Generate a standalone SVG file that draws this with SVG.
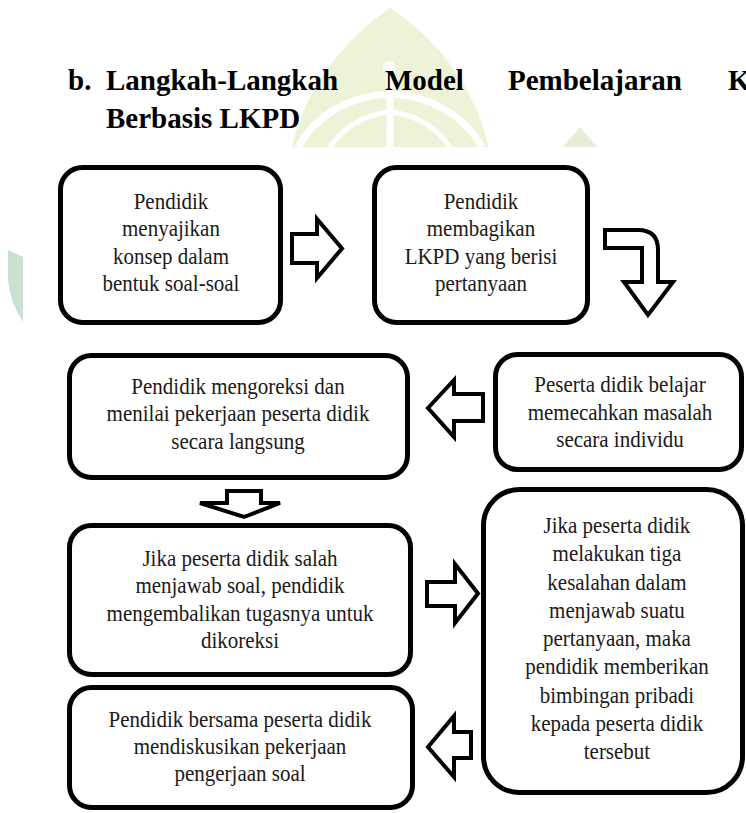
<svg xmlns="http://www.w3.org/2000/svg" width="746" height="813" viewBox="0 0 746 813">
<style>
.box{fill:#fff;stroke:#000;stroke-width:5}
.arr{fill:#fff;stroke:#000;stroke-width:4;stroke-linejoin:miter}
.t{font-family:"Liberation Serif","Times New Roman",serif;font-size:24px;fill:#1a1a1a;text-anchor:middle}
.h{font-family:"Liberation Serif","Times New Roman",serif;font-size:29px;font-weight:bold;fill:#000}
</style>
<rect width="746" height="813" fill="#fff"/>
<g id="watermark">
<path d="M390,8 C350,35 305,85 292,147 L488,147 C476,85 432,35 390,8 Z" fill="#eef3d8"/>
<path d="M298,147 Q325,100 386,94" fill="none" stroke="#fff" stroke-width="7"/>
<path d="M482,147 Q455,100 394,94" fill="none" stroke="#fff" stroke-width="7"/>
<path d="M330,147 Q350,118 387,112" fill="none" stroke="#fff" stroke-width="5"/>
<path d="M450,147 Q430,118 393,112" fill="none" stroke="#fff" stroke-width="5"/>
<line x1="390" y1="68" x2="390" y2="147" stroke="#fff" stroke-width="7"/>
<circle cx="389" cy="67" r="6" fill="#fff"/>
<path d="M580,127 L563,147 L597,147 Z" fill="#e6efd6"/>
<path d="M8,250 L23,257 L23,322 Q10,302 8,280 Z" fill="#c9e1d2"/>
</g>
<g id="title">
<text class="h" x="68" y="90">b.</text>
<text class="h" x="106" y="90">Langkah-Langkah</text>
<text class="h" x="385" y="90">Model</text>
<text class="h" x="508" y="90">Pembelajaran</text>
<text class="h" x="728" y="90">K</text>
<text class="h" x="106" y="128">Berbasis LKPD</text>
</g>
<g id="node1">
<rect class="box" x="60.5" y="167.5" width="220" height="155" rx="22"/>
<g transform="scale(0.875,1)">
<text class="t" x="195.4" y="209">Pendidik</text>
<text class="t" x="195.4" y="236.5">menyajikan</text>
<text class="t" x="195.4" y="264">konsep dalam</text>
<text class="t" x="195.4" y="291.5">bentuk soal-soal</text>
</g>
</g>
<g id="node2">
<rect class="box" x="374.5" y="167.5" width="213" height="155" rx="22"/>
<g transform="scale(0.875,1)">
<text class="t" x="549.7" y="209">Pendidik</text>
<text class="t" x="549.7" y="236.5">membagikan</text>
<text class="t" x="549.7" y="264">LKPD yang berisi</text>
<text class="t" x="549.7" y="291.5">pertanyaan</text>
</g>
</g>
<g id="node3">
<rect class="box" x="495.5" y="354.5" width="246" height="115" rx="22"/>
<g transform="scale(0.875,1)">
<text class="t" x="708.6" y="392">Peserta didik belajar</text>
<text class="t" x="708.6" y="420">memecahkan masalah</text>
<text class="t" x="708.6" y="447">secara individu</text>
</g>
</g>
<g id="node4">
<rect class="box" x="69.5" y="355.5" width="338" height="122" rx="22"/>
<g transform="scale(0.875,1)">
<text class="t" x="272" y="394">Pendidik mengoreksi dan</text>
<text class="t" x="272" y="421.5">menilai pekerjaan peserta didik</text>
<text class="t" x="272" y="449">secara langsung</text>
</g>
</g>
<g id="node5">
<rect class="box" x="69.5" y="525.5" width="341" height="149" rx="22"/>
<g transform="scale(0.875,1)">
<text class="t" x="274.3" y="566">Jika peserta didik salah</text>
<text class="t" x="274.3" y="593.5">menjawab soal, pendidik</text>
<text class="t" x="274.3" y="621">mengembalikan tugasnya untuk</text>
<text class="t" x="274.3" y="648.5">dikoreksi</text>
</g>
</g>
<g id="node6">
<rect class="box" x="483.5" y="489.5" width="259" height="303" rx="36"/>
<g transform="scale(0.875,1)">
<text class="t" x="705.1" y="533">Jika peserta didik</text>
<text class="t" x="705.1" y="561">melakukan tiga</text>
<text class="t" x="705.1" y="590">kesalahan dalam</text>
<text class="t" x="705.1" y="618">menjawab suatu</text>
<text class="t" x="705.1" y="646">pertanyaan, maka</text>
<text class="t" x="705.1" y="674">pendidik memberikan</text>
<text class="t" x="705.1" y="703">bimbingan pribadi</text>
<text class="t" x="705.1" y="731">kepada peserta didik</text>
<text class="t" x="705.1" y="759">tersebut</text>
</g>
</g>
<g id="node7">
<rect class="box" x="69.5" y="687.5" width="343" height="120" rx="22"/>
<g transform="scale(0.875,1)">
<text class="t" x="274.3" y="727">Pendidik bersama peserta didik</text>
<text class="t" x="274.3" y="754">mendiskusikan pekerjaan</text>
<text class="t" x="274.3" y="781">pengerjaan soal</text>
</g>
</g>
<g id="connectors">
<polygon class="arr" points="292,234 317,234 317,219 342,248.5 317,278 317,263 292,263"/>
<path class="arr" d="M605,230 H638 Q658,230 658,250 V282 H673 L648,315 L624,282 H642 V248 H605 Z"/>
<polygon class="arr" points="428,408 454,380 454,394 483,394 483,421 454,421 454,437"/>
<polygon class="arr" points="227,491 261,491 261,503 280,503 244,517 200,503 227,503"/>
<polygon class="arr" points="427,582 455,582 455,564 478,593.5 455,623 455,606 427,606"/>
<polygon class="arr" points="428,747 454,716 454,732 471,732 471,758 454,758 454,777"/>
</g>
</svg>
